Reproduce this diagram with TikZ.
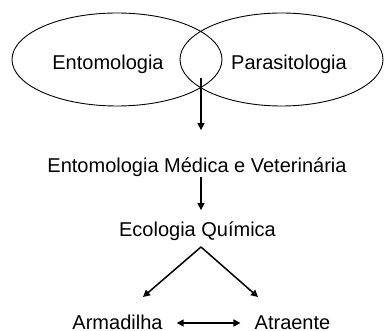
\documentclass[tikz,border=0pt]{standalone}
\usepackage{fontspec}
\setmainfont{Liberation Sans}
\usepackage{tikz}
\usetikzlibrary{arrows.meta,calc,positioning}
\tikzset{
  area/.style={draw=black,line width=0.9pt},
  rotulo/.style={anchor=base,inner sep=0pt,font=\fontsize{20}{24}\selectfont},
  seta/.style={-{Triangle[length=7pt,width=7pt]},line width=1.5pt},
  setadupla/.style={{Triangle[length=7pt,width=7pt]}-{Triangle[length=7pt,width=7pt]},line width=1.5pt}
}

\begin{document}
\begin{tikzpicture}[x=1pt,y=-1pt]
\useasboundingbox (0,0) rectangle (384,331);
% areas
\draw[area] (117,59.5) ellipse (105 and 46.5);
\draw[area] (281.5,59.5) ellipse (101.5 and 46.5);
\node[rotulo] (ento) at (108,70) {Entomologia};
\node[rotulo] (para) at (289,70) {Parasitologia};
\coordinate (cruce) at (201,78);
% cadeia
\node[rotulo] (emv) at (197,173) {Entomologia Médica e Veterinária};
\node[rotulo] (eq) at (197.5,237) {Ecologia Química};
\draw[seta,shorten >=28pt] (cruce) -- (cruce |- emv.north);
\draw[seta,shorten >=12pt] (cruce |- emv.south) -- (cruce |- eq.north);
% ramos
\node[rotulo] (arm) at (117.5,330) {Armadilha};
\node[rotulo] (atr) at (292.5,330) {Atraente};
\coordinate (vertice) at (201,247);
\coordinate (pontaA) at (143,297);
\coordinate (pontaB) at (258,297);
\draw[seta] (vertice) -- (pontaA);
\draw[seta] (vertice) -- (pontaB);
\draw[setadupla,shorten <=14pt,shorten >=14pt] ([yshift=7pt]arm.base east) -- ([yshift=7pt]atr.base west);
\end{tikzpicture}
\end{document}
